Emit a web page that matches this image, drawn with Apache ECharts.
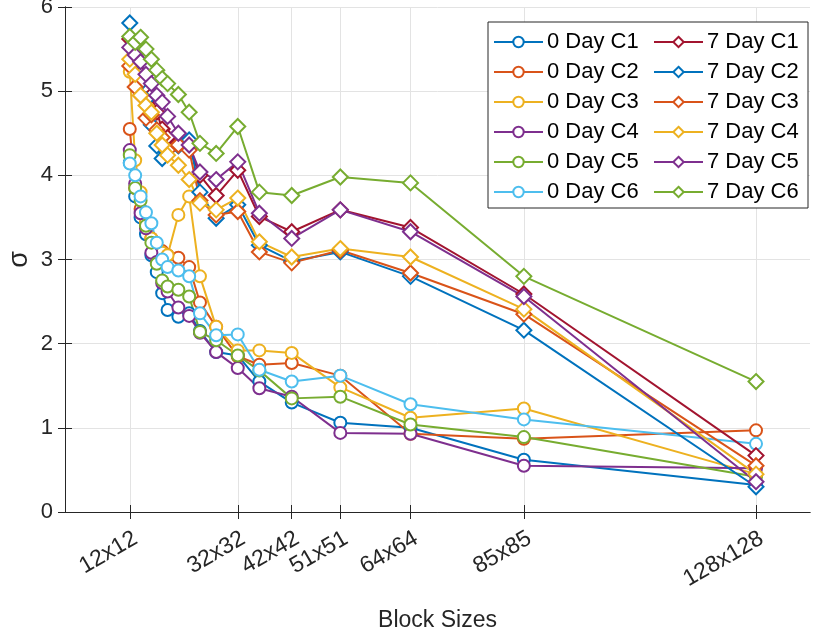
<!DOCTYPE html>
<html>
<head>
<meta charset="utf-8">
<script src="https://cdn.jsdelivr.net/npm/echarts@6/dist/echarts.min.js"></script>
<style>
  html, body { margin: 0; padding: 0; background: #fff; }
  #main { width: 813px; height: 638px; }
</style>
</head>
<body>
<div id="main"></div>
<script>
var blockSizes = [12, 13, 14, 15, 16, 17, 18, 19, 21, 23, 25, 28, 32, 36, 42, 51, 64, 85, 128];
var tickValues = [12, 32, 42, 51, 64, 85, 128];
var tickLabels = ['12x12', '32x32', '42x42', '51x51', '64x64', '85x85', '128x128'];

// 0 day
var day0C1 = [4.15, 3.75, 3.50, 3.30, 3.05, 2.85, 2.60, 2.40, 2.32, 2.36, 2.15, 1.90, 1.86, 1.55, 1.30, 1.06, 1.00, 0.62, 0.32];
var day0C2 = [4.55, 3.85, 3.60, 3.40, 3.25, 3.15, 3.10, 3.05, 3.02, 2.91, 2.49, 2.20, 1.85, 1.75, 1.77, 1.62, 0.93, 0.87, 0.97];
var day0C3 = [5.23, 4.18, 3.80, 3.45, 3.25, 3.15, 3.08, 3.05, 3.53, 3.75, 2.80, 2.20, 1.92, 1.92, 1.89, 1.48, 1.12, 1.23, 0.45];
var day0C4 = [4.30, 3.90, 3.55, 3.37, 3.08, 2.97, 2.72, 2.62, 2.43, 2.33, 2.13, 1.90, 1.71, 1.47, 1.37, 0.94, 0.93, 0.55, 0.52];
var day0C5 = [4.24, 3.85, 3.70, 3.40, 3.20, 2.95, 2.75, 2.68, 2.64, 2.56, 2.14, 2.04, 1.86, 1.68, 1.35, 1.37, 1.04, 0.89, 0.42];
var day0C6 = [4.14, 4.00, 3.75, 3.56, 3.43, 3.20, 3.00, 2.91, 2.87, 2.80, 2.36, 2.10, 2.11, 1.69, 1.55, 1.62, 1.28, 1.10, 0.81];
// 7 day
var day7C1 = [5.62, 5.40, 5.20, 5.05, 4.95, 4.75, 4.55, 4.45, 4.38, 4.32, 4.00, 3.76, 4.06, 3.51, 3.33, 3.59, 3.38, 2.59, 0.67];
var day7C2 = [5.81, 5.35, 5.10, 4.90, 4.60, 4.35, 4.20, 4.30, 4.35, 4.42, 3.80, 3.49, 3.65, 3.17, 2.98, 3.09, 2.80, 2.16, 0.30];
var day7C3 = [5.30, 5.05, 4.95, 4.68, 4.72, 4.54, 4.45, 4.30, 4.36, 4.30, 3.70, 3.53, 3.57, 3.09, 2.96, 3.11, 2.84, 2.35, 0.55];
var day7C4 = [5.38, 5.20, 4.95, 4.83, 4.75, 4.50, 4.36, 4.24, 4.12, 3.95, 3.67, 3.59, 3.73, 3.21, 3.03, 3.13, 3.03, 2.41, 0.45];
var day7C5 = [5.52, 5.43, 5.35, 5.20, 5.09, 4.95, 4.87, 4.70, 4.50, 4.36, 4.04, 3.95, 4.16, 3.55, 3.25, 3.59, 3.33, 2.56, 0.36];
var day7C6 = [5.65, 5.58, 5.64, 5.50, 5.38, 5.25, 5.15, 5.09, 4.96, 4.75, 4.38, 4.26, 4.58, 3.80, 3.76, 3.98, 3.91, 2.80, 1.55];

var names0 = ['0 Day C1', '0 Day C2', '0 Day C3', '0 Day C4', '0 Day C5', '0 Day C6'];
var names7 = ['7 Day C1', '7 Day C2', '7 Day C3', '7 Day C4', '7 Day C5', '7 Day C6'];
var values0 = [day0C1, day0C2, day0C3, day0C4, day0C5, day0C6];
var values7 = [day7C1, day7C2, day7C3, day7C4, day7C5, day7C6];
var colors0 = ['#0072BD', '#D95319', '#EDB120', '#7E2F8E', '#77AC30', '#4DBEEE'];
var colors7 = ['#A2142F', '#0072BD', '#D95319', '#EDB120', '#7E2F8E', '#77AC30'];

var axisColor = '#262626';
var font = 'Liberation Sans, Arial, Helvetica, sans-serif';

function makeSeries(name, vals, color, symbol, size) {
    return {
        name: name,
        type: 'line',
        data: blockSizes.map(function (b, i) { return [b, vals[i]]; }),
        symbol: symbol,
        symbolSize: size,
        showAllSymbol: true,
        color: color,
        lineStyle: { width: 2, color: color },
        itemStyle: { color: color, borderColor: color, borderWidth: 2 }
    };
}

var series = [];
for (var i = 0; i < 6; i++) {
    series.push(makeSeries(names0[i], values0[i], colors0[i], 'emptyCircle', 12));
}
for (var j = 0; j < 6; j++) {
    series.push(makeSeries(names7[j], values7[j], colors7[j], 'emptyDiamond', 15));
}

var legendCommon = {
    orient: 'vertical',
    top: 31,
    itemGap: 8,
    itemWidth: 49,
    itemHeight: 13,
    padding: 0,
    textStyle: { fontSize: 22, color: '#000', fontFamily: font, padding: [0, 0, 0, -1] },
    z: 5
};

var myChart = echarts.init(document.getElementById('main'));
var option = {
    animation: false,
    backgroundColor: '#fff',
    grid: { left: 65, right: 3, top: 7, bottom: 126, outerBoundsMode: 'none', containLabel: false },
    xAxis: [
        {
            type: 'value',
            min: 0,
            max: 138,
            name: 'Block Sizes',
            nameLocation: 'middle',
            nameGap: 97,
            nameMoveOverlap: false,
            nameTextStyle: { fontSize: 23, color: axisColor, fontFamily: font },
            axisLine: { show: true, onZero: false, lineStyle: { color: axisColor, width: 1 } },
            axisTick: { show: true, inside: true, length: 7, customValues: tickValues, lineStyle: { color: axisColor } },
            axisLabel: {
                customValues: tickValues,
                rotate: 30,
                margin: 15,
                fontSize: 23,
                verticalAlign: 'top',
                color: axisColor,
                fontFamily: font,
                formatter: function (v) { return tickLabels[tickValues.indexOf(v)]; }
            },
            splitLine: { show: true, lineStyle: { color: '#e3e3e3', width: 1 } }
        },
        {
            type: 'value',
            position: 'top',
            min: 0,
            max: 138,
            axisLine: { show: true, lineStyle: { color: axisColor, width: 1 } },
            axisTick: { show: true, inside: true, length: 7, customValues: tickValues, lineStyle: { color: axisColor } },
            axisLabel: { show: false },
            splitLine: { show: false }
        }
    ],
    yAxis: [
        {
            type: 'value',
            min: 0,
            max: 6,
            interval: 1,
            name: 'σ',
            nameLocation: 'middle',
            nameGap: 32,
            nameMoveOverlap: false,
            nameRotate: 90,
            nameTextStyle: { fontSize: 27, color: axisColor, fontFamily: font },
            axisLine: { show: true, lineStyle: { color: axisColor, width: 1 } },
            axisTick: { show: true, inside: true, length: 7, lineStyle: { color: axisColor } },
            axisLabel: { fontSize: 22, color: axisColor, margin: 12, fontFamily: font },
            splitLine: { show: true, lineStyle: { color: '#e3e3e3', width: 1 } }
        },
        {
            type: 'value',
            position: 'right',
            min: 0,
            max: 6,
            interval: 1,
            axisLine: { show: true, lineStyle: { color: axisColor, width: 1 } },
            axisTick: { show: true, inside: true, length: 7, lineStyle: { color: axisColor } },
            axisLabel: { show: false },
            splitLine: { show: false }
        }
    ],
    legend: [
        Object.assign({}, legendCommon, { left: 493, data: names0 }),
        Object.assign({}, legendCommon, { left: 653, data: names7 })
    ],
    graphic: {
        elements: [{
            type: 'rect',
            z: 4,
            shape: { x: 488, y: 22, width: 320, height: 186 },
            style: { fill: '#fff', stroke: axisColor, lineWidth: 1 }
        }]
    },
    series: series
};
myChart.setOption(option);
</script>
</body>
</html>
